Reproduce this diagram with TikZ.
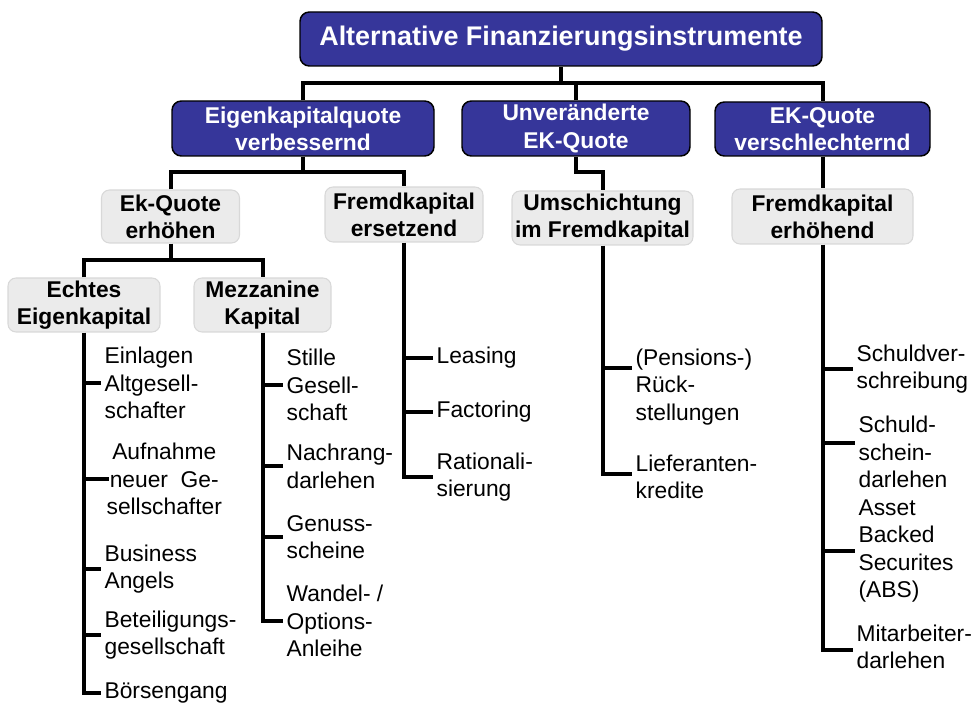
\documentclass[tikz,border=0pt]{standalone}
\usepackage{fontspec}
\setmainfont{Liberation Sans}
\usetikzlibrary{calc}
\definecolor{cBlue}{RGB}{54,54,154}
\definecolor{cGrayFill}{RGB}{235,235,235}
\definecolor{cGrayLine}{RGB}{216,216,216}
\begin{document}
\begin{tikzpicture}[
  x=0.75pt, y=-0.75pt,
  bluebox/.style={draw=black, line width=1.1pt, fill=cBlue, rounded corners=7pt,
    text=white, font=\bfseries\fontsize{17.1}{20.3}\selectfont, align=center, inner sep=0pt},
  titlebox/.style={bluebox, font=\bfseries\fontsize{20.2}{24}\selectfont},
  greybox/.style={draw=cGrayLine, line width=0.8pt, fill=cGrayFill, rounded corners=6pt,
    text=black, font=\bfseries\fontsize{17.1}{20.3}\selectfont, align=center, inner sep=0pt},
  leaf/.style={anchor=west, align=left, inner xsep=2.5pt, inner ysep=0pt,
    font=\fontsize{17.1}{20.6}\selectfont},
  conn/.style={line width=3pt},
]
\useasboundingbox (0,0) rectangle (976,705);

% boxes
\node[titlebox, minimum width=391.5pt, minimum height=40.5pt] (top) at (561,39) {Alternative Finanzierungsinstrumente};

\node[bluebox, minimum width=196.5pt, minimum height=41.25pt] (L2a) at (303,128.5) {Eigenkapitalquote\\verbessernd};
\node[bluebox, minimum width=171pt, minimum height=41.25pt] (L2b) at (576,128.5) {Unveränderte\\EK-Quote};
\node[bluebox, minimum width=161.25pt, minimum height=40.5pt] (L2c) at (822.5,129) {EK-Quote\\verschlechternd};

\node[greybox, minimum width=103.5pt, minimum height=39.75pt] (L3a) at (170.5,216.5) {Ek-Quote\\erhöhen};
\node[greybox, minimum width=118.5pt, minimum height=41.25pt] (L3b) at (404,214.5) {Fremdkapital\\ersetzend};
\node[greybox, minimum width=135.75pt, minimum height=40.5pt] (L3c) at (602.5,218) {Umschichtung\\im Fremdkapital};
\node[greybox, minimum width=135.75pt, minimum height=41.25pt] (L3d) at (822.5,216.5) {Fremdkapital\\erhöhend};

\node[greybox, minimum width=114pt, minimum height=40.5pt] (L4a) at (84,305) {Echtes\\Eigenkapital};
\node[greybox, minimum width=102.75pt, minimum height=40.5pt] (L4b) at (262.5,305) {Mezzanine\\Kapital};

% bus coordinates
\coordinate (bus1) at (0,83);
\coordinate (bus2) at (0,172);
\coordinate (bus3) at (0,260);

% tree connectors
\draw[conn] (top.south) -- (top.south |- bus1);
\draw[conn] (L2a.north) |- (L2c.north |- bus1) -- (L2c.north);
\draw[conn] (L2b.north) -- (L2b.north |- bus1);

\draw[conn] (L2a.south) -- (L2a.south |- bus2);
\draw[conn] (L3a.north) |- (L3b.north |- bus2) -- (L3b.north);
\draw[conn] (L2b.south) -- (L2b.south |- bus2) -| (L3c.north);
\draw[conn] (L2c.south) -- (L3d.north);

\draw[conn] (L3a.south) -- (L3a.south |- bus3);
\draw[conn] (L4a.north) |- (L4b.north |- bus3) -- (L4b.north);

% leaves: Echtes Eigenkapital
\node[leaf] (e1) at (101,383) {Einlagen\\Altgesell-\\schafter};
\node[leaf, align=center] (e2) at (103,479) {Aufnahme\\neuer\ \ Ge-\\sellschafter};
\node[leaf] (e3) at (101,569) {Business\\Angels};
\node[leaf] (e4) at (101,635) {Beteiligungs-\\gesellschaft};
\node[leaf] (e5) at (101,693) {Börsengang};
\draw[conn] (L4a.south) |- (e5.west);
\draw[conn] (L4a.south |- e1.west) -- (e1.west);
\draw[conn] (L4a.south |- e2.west) -- ($(e2.west)+(6,0)$);
\draw[conn] (L4a.south |- e3.west) -- (e3.west);
\draw[conn] (L4a.south |- e4.west) -- (e4.west);

% leaves: Mezzanine Kapital
\node[leaf] (m1) at (283,385) {Stille\\Gesell-\\schaft};
\node[leaf] (m2) at (283,466.5) {Nachrang-\\darlehen};
\node[leaf] (m3) at (283,537) {Genuss-\\scheine};
\node[leaf] (m4) at (283,621) {Wandel- /\\Options-\\Anleihe};
\draw[conn] (L4b.south) |- (m4.west);
\draw[conn] (L4b.south |- m1.west) -- (m1.west);
\draw[conn] (L4b.south |- m2.west) -- (m2.west);
\draw[conn] (L4b.south |- m3.west) -- (m3.west);

% leaves: Fremdkapital ersetzend
\node[leaf] (f1) at (433,358) {Leasing};
\node[leaf] (f2) at (433,412) {Factoring};
\node[leaf] (f3) at (433,477) {Rationali-\\sierung};
\draw[conn] (L3b.south) |- (f3.west);
\draw[conn] (L3b.south |- f1.west) -- (f1.west);
\draw[conn] (L3b.south |- f2.west) -- (f2.west);

% leaves: Umschichtung im Fremdkapital
\node[leaf] (u1) at (632,387) {(Pensions-)\\Rück-\\stellungen};
\node[leaf] (u2) at (632,477) {Lieferanten-\\kredite};
\coordinate (u1t) at ($(u1.west)+(0,-19)$);
\coordinate (u2t) at ($(u2.west)+(0,-3)$);
\draw[conn] (L3c.south) |- (u2t);
\draw[conn] (L3c.south |- u1t) -- (u1t);

% leaves: Fremdkapital erhoehend
\node[leaf] (s1) at (853,369) {Schuldver-\\schreibung};
\node[leaf] (s2) at (855,452) {Schuld-\\schein-\\darlehen};
\node[leaf] (s3) at (855,551) {Asset\\Backed\\Securites\\(ABS)};
\node[leaf] (s4) at (853,647) {Mitarbeiter-\\darlehen};
\coordinate (s2t) at ($(s2.west)+(0,-9)$);
\draw[conn] (L3d.south) |- ($(s4.west)+(0,3)$);
\draw[conn] (L3d.south |- s1.west) -- (s1.west);
\draw[conn] (L3d.south |- s2t) -- (s2t);
\draw[conn] (L3d.south |- s3.west) -- (s3.west);
\end{tikzpicture}
\end{document}
